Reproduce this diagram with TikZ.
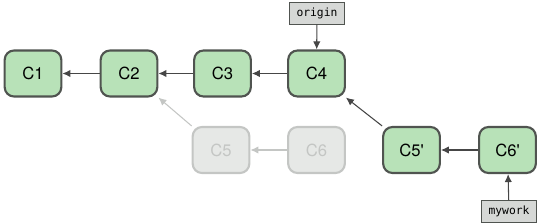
\documentclass[tikz,border=0pt]{standalone}
\usepackage{fontspec}
\setmainfont{TeX Gyre Heros}
\setmonofont{DejaVu Sans Mono}
\usetikzlibrary{arrows.meta}

\definecolor{commitfill}{RGB}{184,226,184}
\definecolor{commitline}{RGB}{80,84,80}
\definecolor{fadefill}{RGB}{230,232,230}
\definecolor{fadeline}{RGB}{196,198,196}
\definecolor{reffill}{RGB}{214,216,214}
\definecolor{arrowline}{RGB}{70,70,70}

\tikzset{
	commit/.style={draw=commitline, fill=commitfill, line width=1.6pt, rounded corners=7pt,
		minimum width=42.5pt, minimum height=34.5pt, inner sep=0pt,
		font=\fontsize{12.5}{15}\selectfont},
	faded/.style={draw=fadeline, fill=fadefill, text=fadeline},
	branch/.style={draw=commitline, fill=reffill, line width=0.6pt, minimum width=41pt,
		minimum height=16.5pt, inner sep=1pt, font=\ttfamily\fontsize{8.5}{10}\selectfont},
	parent/.style={-{Latex[length=6pt,width=5.5pt]}, line width=0.8pt, draw=arrowline},
	fadedparent/.style={parent, draw=fadeline}
}

\begin{document}
\begin{tikzpicture}[x=0.75pt,y=0.75pt,yscale=-1,xscale=1]

	\useasboundingbox (0,0) rectangle (540,224);

	%%COMMITS---------------------------------------------
	\node [commit] (c1) at (33,73.5) {C1};
	\node [commit] (c2) at (129,73.5) {C2};
	\node [commit] (c3) at (222.5,73.5) {C3};
	\node [commit] (c4) at (316.5,73.5) {C4};
	%rebased away
	\node [commit,faded] (c5) at (221,150) {C5};
	\node [commit,faded] (c6) at (316.5,150) {C6};
	%rebased copies
	\node [commit] (c5p) at (411.5,150) {C5\textquotesingle};
	\node [commit] (c6p) at (507.5,150) {C6\textquotesingle};

	%%BRANCHES---------------------------------------------
	\node [branch] (origin) at (317,13) {origin};
	\node [branch] (mywork) at (509,211.5) {mywork};

	%%PARENT LINKS----------------------------------------
	\draw [parent] (c2) -- (c1);
	\draw [parent] (c3) -- (c2);
	\draw [parent] (c4) -- (c3);
	\draw [parent] (c5p.north west) -- (c4.south east);
	\draw [parent] (c6p) -- (c5p);
	\draw [fadedparent] (c6) -- (c5);
	\draw [fadedparent] (c5.north west) -- (c2.south east);

	%%branch pointers
	\draw [parent] (origin) -- (c4);
	\draw [parent] (mywork) -- (c6p);

\end{tikzpicture}
\end{document}
